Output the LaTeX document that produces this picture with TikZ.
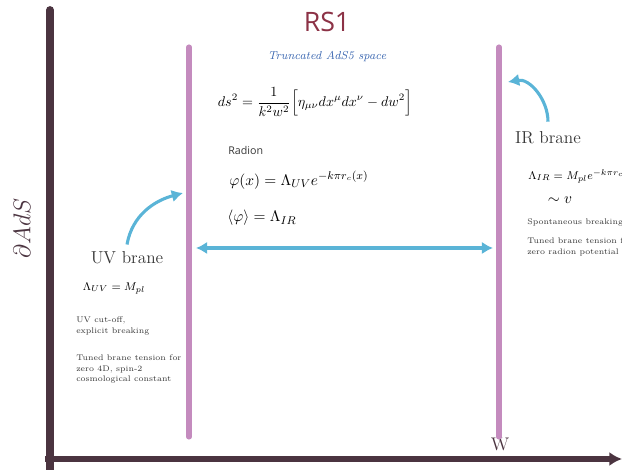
\documentclass[tikz,border=0pt]{standalone}
\usepackage{amsmath,amssymb}
\usepackage{fontspec}
\usepackage{tikz}
\usepackage{xcolor}
\usetikzlibrary{arrows.meta,positioning}
\newfontfamily\titlefont{Open Sans}
\definecolor{axisdark}{RGB}{75,52,64}
\definecolor{branepurple}{RGB}{196,139,190}
\definecolor{arrowblue}{RGB}{90,180,215}
\definecolor{titlered}{RGB}{140,50,70}
\definecolor{subblue}{RGB}{55,100,175}
\definecolor{textgray}{RGB}{55,55,55}
\tikzset{
  brane/.style={draw=branepurple,line width=3.6pt,line cap=round},
  bluearrow/.style={draw=arrowblue,line width=2.2pt},
  note/.style={text=textgray,font=\fontsize{5.8}{7.6}\selectfont,align=left,anchor=west,inner sep=0pt},
  formula/.style={text=black,font=\fontsize{11}{13}\selectfont,inner sep=0pt},
  branelabel/.style={text=textgray,font=\fontsize{12.3}{14}\selectfont,inner sep=0pt}
}

\begin{document}
\begin{tikzpicture}[x=1cm,y=1cm]
  \useasboundingbox (0,0) rectangle (15.55,11.75);

  \coordinate (axisbot) at (1.25,0);
  \coordinate (axistop) at (1.25,11.5);
  \coordinate (wstart) at (1.125,0.275);
  \coordinate (wend) at (15.55,0.275);
  \draw[axisdark,line width=5.5pt,line cap=round] (axisbot) -- (axistop);
  \draw[axisdark,line width=3.6pt,-{Latex[length=9pt,width=10pt]}] (wstart) -- (wend);
  \node[text=axisdark,font=\fontsize{18}{20}\selectfont,rotate=90] (adslabel) at (0.55,6.05) {$\partial AdS$};
  \node[text=axisdark,font=\fontsize{13}{15}\selectfont] (wlabel) at (12.5,0.65) {W};

  \coordinate (uvtop) at (4.725,10.575);
  \coordinate (uvbot) at (4.725,0.825);
  \coordinate (irtop) at (12.475,10.575);
  \coordinate (irbot) at (12.475,0.825);
  \draw[brane] (uvtop) -- (uvbot);
  \draw[brane] (irtop) -- (irbot);

  \node[text=titlered,font=\titlefont\fontsize{19}{22}\selectfont] (title) at (8.175,11.19) {RS1};
  \node[text=subblue,font=\fontsize{8.2}{10}\itshape] (subtitle) at (8.175,10.325) {Truncated AdS5 space};
  \node[formula,font=\fontsize{10.3}{12}\selectfont] (metric) at (7.875,9.2) {$\displaystyle ds^2=\frac{1}{k^2w^2}\Big[\eta_{\mu\nu}dx^\mu dx^\nu-dw^2\Big]$};
  \node[text=textgray,font=\titlefont\fontsize{7.6}{9}\selectfont,anchor=west,inner sep=0pt] (radion) at (5.7,8.0) {Radion};
  \node[formula,anchor=west] (radionfield) at (5.725,7.25) {$\varphi(x)=\Lambda_{UV}e^{-k\pi r_c(x)}$};
  \node[formula,anchor=west] (vev) at (5.675,6.3) {$\langle\varphi\rangle=\Lambda_{IR}$};

  \coordinate (leftend) at (4.9,5.55);
  \coordinate (rightend) at (12.325,5.55);
  \draw[bluearrow,{Latex[length=8pt,width=9pt]}-{Latex[length=8pt,width=9pt]}] (leftend) -- (rightend);

  \node[branelabel] (uvlabel) at (3.175,5.3) {UV brane};
  \node[formula,font=\fontsize{8.2}{10}\selectfont] (uvscale) at (2.85,4.55) {$\Lambda_{UV}=M_{pl}$};
  \node[note] (uvnote1) at (1.9,3.6) {UV cut-off,\\explicit breaking};
  \node[note] (uvnote2) at (1.9,2.525) {Tuned brane tension for\\zero 4D, spin-2\\cosmological constant};
  \coordinate (uvtip) at (4.575,6.925);
  \draw[bluearrow,-{Latex[length=8pt,width=9pt]}] ([yshift=5pt]uvlabel.north) to[out=80,in=195] (uvtip);

  \node[branelabel] (irlabel) at (13.7,8.3) {IR brane};
  \node[formula,font=\fontsize{8.4}{10}\selectfont,anchor=west] (irscale) at (13.2,7.35) {$\Lambda_{IR}=M_{pl}e^{-k\pi r_c}$};
  \node[formula] (irvev) at (14.0,6.75) {$\sim v$};
  \node[note] (irnote1) at (13.175,6.2) {Spontaneous breaking};
  \node[note] (irnote2) at (13.175,5.575) {Tuned brane tension for\\zero radion potential};
  \coordinate (irtip) at (12.7,9.7);
  \draw[bluearrow,-{Latex[length=8pt,width=9pt]}] ([yshift=7pt]irlabel.north) to[out=90,in=10] (irtip);
\end{tikzpicture}
\end{document}
